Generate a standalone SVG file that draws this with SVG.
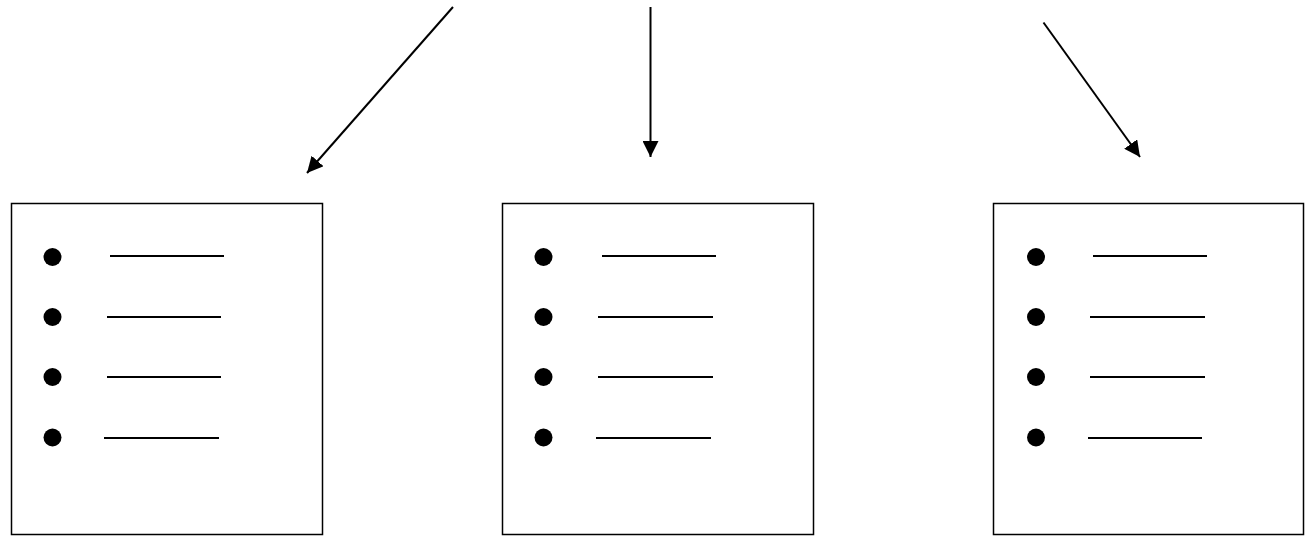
<svg xmlns="http://www.w3.org/2000/svg" width="1305" height="536" viewBox="0 0 1305 536">
<style>
.box{fill:#fff;stroke:#000;stroke-width:1.5}
.dot{fill:#000}
.ln{stroke:#000;stroke-width:2}
.conn{stroke:#000;stroke-width:2;fill:none;marker-end:url(#ah)}
</style>
<defs>
<marker id="ah" markerUnits="userSpaceOnUse" markerWidth="16" markerHeight="16" viewBox="0 0 16 16" refX="16" refY="8" orient="auto">
<path d="M0,0 L16,8 L0,16 Z" fill="#000"/>
</marker>
</defs>
<rect width="1305" height="536" fill="#fff"/>
<g id="connectors">
<line class="conn" x1="453" y1="7" x2="307" y2="173"/>
<line class="conn" x1="650.5" y1="7" x2="650.5" y2="157"/>
<line class="conn" x1="1043.5" y1="22.5" x2="1140" y2="157"/>
</g>
<g id="box1">
<rect class="box" x="11.5" y="203.5" width="311" height="331"/>
<circle class="dot" cx="52.5" cy="257" r="9"/>
<circle class="dot" cx="52.5" cy="317" r="9"/>
<circle class="dot" cx="52.5" cy="377" r="9"/>
<circle class="dot" cx="52.5" cy="437.5" r="9"/>
<line class="ln" x1="110" y1="256" x2="224" y2="256"/>
<line class="ln" x1="107" y1="317" x2="221" y2="317"/>
<line class="ln" x1="107" y1="377" x2="221" y2="377"/>
<line class="ln" x1="104" y1="438" x2="219" y2="438"/>
</g>
<g id="box2">
<rect class="box" x="502.5" y="203.5" width="311" height="331"/>
<circle class="dot" cx="543.5" cy="257" r="9"/>
<circle class="dot" cx="543.5" cy="317" r="9"/>
<circle class="dot" cx="543.5" cy="377" r="9"/>
<circle class="dot" cx="543.5" cy="437.5" r="9"/>
<line class="ln" x1="602" y1="256" x2="716" y2="256"/>
<line class="ln" x1="598" y1="317" x2="713" y2="317"/>
<line class="ln" x1="598" y1="377" x2="713" y2="377"/>
<line class="ln" x1="596" y1="438" x2="711" y2="438"/>
</g>
<g id="box3">
<rect class="box" x="993.5" y="203.5" width="310" height="331"/>
<circle class="dot" cx="1036" cy="257" r="9"/>
<circle class="dot" cx="1036" cy="317" r="9"/>
<circle class="dot" cx="1036" cy="377" r="9"/>
<circle class="dot" cx="1036" cy="437.5" r="9"/>
<line class="ln" x1="1093" y1="256" x2="1207" y2="256"/>
<line class="ln" x1="1090" y1="317" x2="1205" y2="317"/>
<line class="ln" x1="1090" y1="377" x2="1205" y2="377"/>
<line class="ln" x1="1088" y1="438" x2="1202" y2="438"/>
</g>
</svg>
